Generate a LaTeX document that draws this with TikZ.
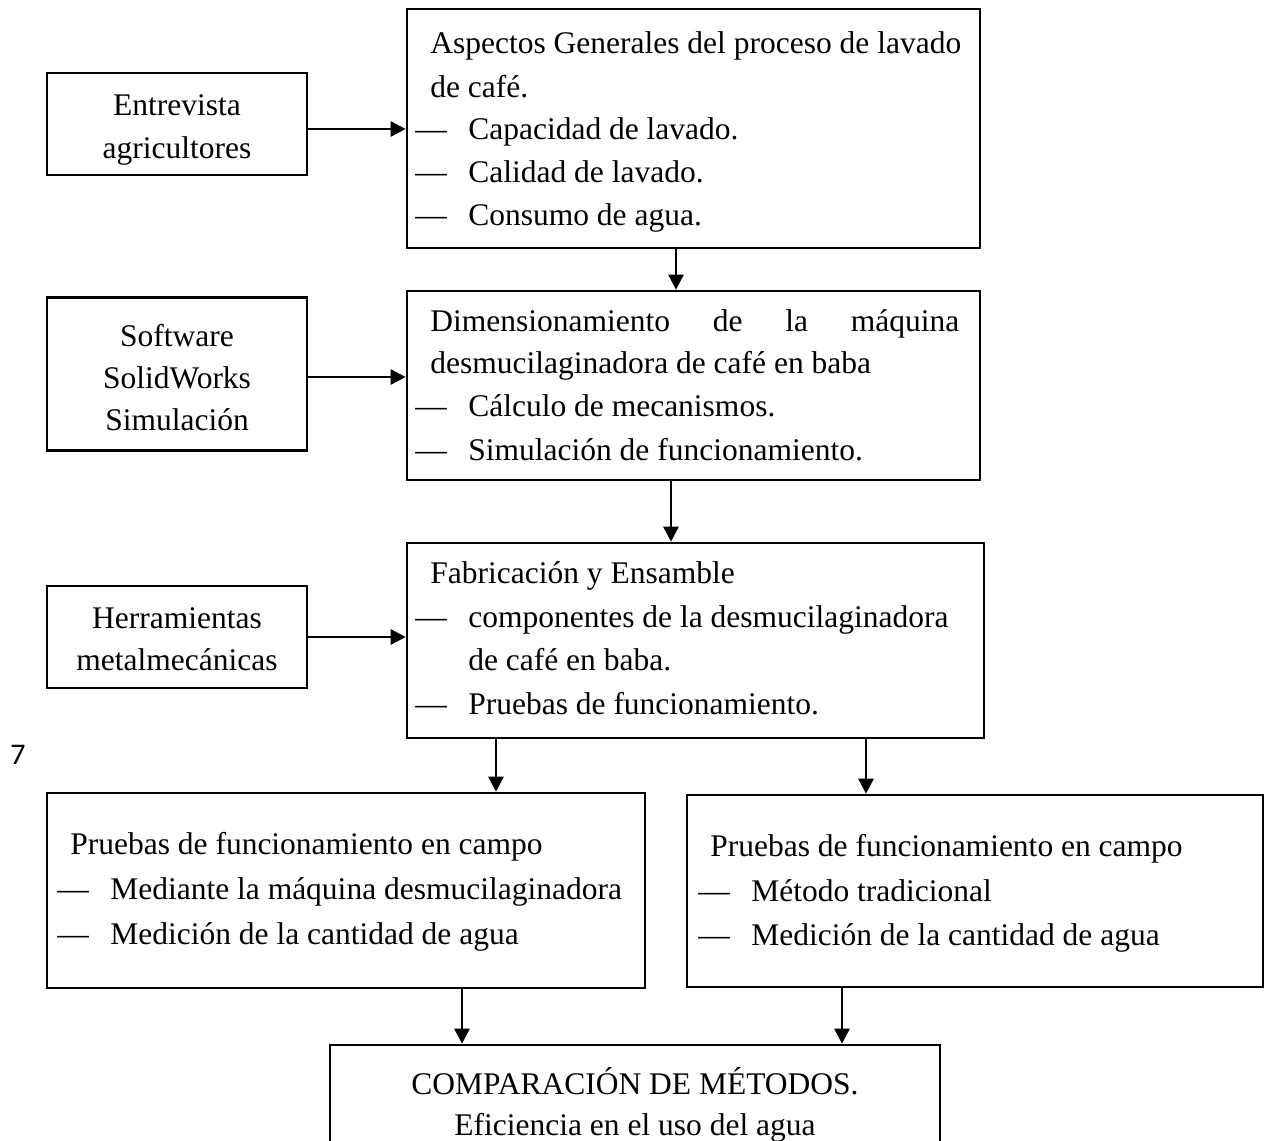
\documentclass[tikz,border=0pt]{standalone}
\usepackage{fontspec}
\setmainfont{Liberation Serif}
\newfontfamily\pagefont{Carlito}
\usetikzlibrary{arrows.meta}
\tikzset{>={Triangle[length=15pt, width=15pt]}}
\newcommand{\itm}[1]{\makebox[53pt][l]{—}#1}

\begin{document}
\begin{tikzpicture}[x=1pt, y=-1pt, line width=2.6pt,
    box/.style={draw, inner sep=0pt},
    txt/.style={font=\fontsize{31.5}{38}\selectfont, inner sep=0pt, anchor=base west},
    mid/.style={txt, anchor=base}]
  \useasboundingbox (0,0) rectangle (1268,1140);
  \clip (0,0) rectangle (1268,1140);
  % left column
  \node[box, minimum width=260pt, minimum height=102pt] (B1) at (177,124) {};
  \node[box, minimum width=260pt, minimum height=153pt] (B2) at (177,374) {};
  \node[box, minimum width=260pt, minimum height=102pt] (B3) at (177,637) {};
  \node[mid] (b1a) at (177,115) {Entrevista};
  \node[mid] (b1b) at (177,158) {agricultores};
  \node[mid] (b2a) at (177,346) {Software};
  \node[mid] (b2b) at (177,388) {SolidWorks};
  \node[mid] (b2c) at (177,430) {Simulación};
  \node[mid] (b3a) at (177,628) {Herramientas};
  \node[mid] (b3b) at (177,670) {metalmecánicas};
  % main column
  \node[box, minimum width=573pt, minimum height=239pt] (A1) at (693.5,128.5) {};
  \node[box, minimum width=573pt, minimum height=189pt] (A2) at (693.5,385.5) {};
  \node[box, minimum width=577pt, minimum height=195pt] (A3) at (695.5,640.5) {};
  \node[txt] (a1a) at (429,54) {Aspectos Generales del proceso de lavado};
  \node[txt] (a1b) at (429,97) {de café.};
  \node[txt] (a1c) at (414,139) {\itm{Capacidad de lavado.}};
  \node[txt] (a1d) at (414,182) {\itm{Calidad de lavado.}};
  \node[txt] (a1e) at (414,225) {\itm{Consumo de agua.}};
  \node[txt] (a2a) at (429,331) {\makebox[529pt][s]{Dimensionamiento de la máquina}};
  \node[txt] (a2b) at (429,373) {desmucilaginadora de café en baba};
  \node[txt] (a2c) at (414,416) {\itm{Cálculo de mecanismos.}};
  \node[txt] (a2d) at (414,460) {\itm{Simulación de funcionamiento.}};
  \node[txt] (a3a) at (429,583) {Fabricación y Ensamble};
  \node[txt] (a3b) at (414,627) {\itm{componentes de la desmucilaginadora}};
  \node[txt] (a3c) at (467,670) {de café en baba.};
  \node[txt] (a3d) at (414,714) {\itm{Pruebas de funcionamiento.}};
  \node[font=\pagefont\fontsize{30}{30}\selectfont, inner sep=0pt, anchor=base west] (pg) at (9,764) {7};
  % field tests
  \node[box, minimum width=598pt, minimum height=195pt] (C1) at (346,890.5) {};
  \node[box, minimum width=576pt, minimum height=192pt] (C2) at (975,891) {};
  \node[txt] (c1a) at (69,854) {Pruebas de funcionamiento en campo};
  \node[txt] (c1b) at (56,899) {\itm{Mediante la máquina desmucilaginadora}};
  \node[txt] (c1c) at (56,944) {\itm{Medición de la cantidad de agua}};
  \node[txt] (c2a) at (709,856) {Pruebas de funcionamiento en campo};
  \node[txt] (c2b) at (697,901) {\itm{Método tradicional}};
  \node[txt] (c2c) at (697,945) {\itm{Medición de la cantidad de agua}};
  % comparison
  \node[box, minimum width=610pt, minimum height=122pt] (D) at (635,1106) {};
  \node[mid] (da) at (635,1094) {COMPARACIÓN DE MÉTODOS.};
  \node[mid] (db) at (635,1135) {Eficiencia en el uso del agua};
  % arrows
  \draw[->] ([yshift=-5pt]B1.east) -- ([yshift=-5pt]B1.east -| A1.west);
  \draw[->] ([yshift=-3pt]B2.east) -- ([yshift=-3pt]B2.east -| A2.west);
  \draw[->] (B3.east) -- (B3.east -| A3.west);
  \draw[->] ([xshift=-17.5pt]A1.south) -- ([xshift=-17.5pt]A1.south |- A2.north);
  \draw[->] ([xshift=-22.5pt]A2.south) -- ([xshift=-22.5pt]A2.south |- A3.north);
  \draw[->] ([xshift=-199.5pt]A3.south) -- ([xshift=-199.5pt]A3.south |- C1.north);
  \draw[->] ([xshift=170.5pt]A3.south) -- ([xshift=170.5pt]A3.south |- C2.north);
  \draw[->] ([xshift=116pt]C1.south) -- ([xshift=116pt]C1.south |- D.north);
  \draw[->] ([xshift=-133pt]C2.south) -- ([xshift=-133pt]C2.south |- D.north);
\end{tikzpicture}
\end{document}
